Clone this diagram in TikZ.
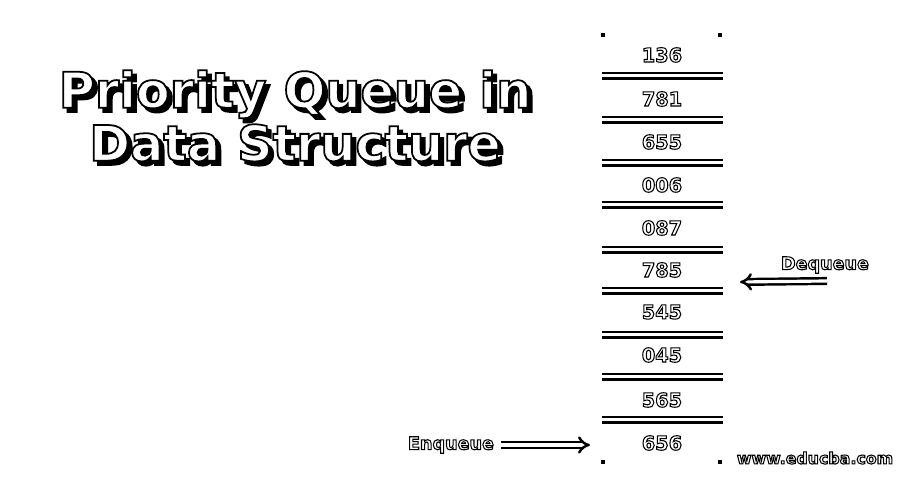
\documentclass[tikz,border=0pt]{standalone}
\usepackage{fontspec}
\setmainfont{DejaVu Sans}
\usetikzlibrary{arrows.meta}
% white letters with a black outline (fill and stroke text mode)
\newcommand{\outl}[2][0.6]{{\color{white}\special{pdf:code q 0 G 2 Tr #1 w}#2\special{pdf:code Q}}}
\newcommand{\shadowtext}[1]{\makebox[0pt][l]{\hspace{2.4pt}\raisebox{-2.4pt}{\special{pdf:code q 0 G 2 Tr 1 w}#1\special{pdf:code Q}}}\outl[1]{#1}}

\begin{document}
\begin{tikzpicture}[
    >=stealth,
    cell/.style={
        font=\bfseries\fontsize{11}{13}\selectfont,
        inner sep=0pt
    },
    sep/.style={
        double=white,
        double distance=1.7pt,
        line width=1.6pt
    },
    cornermark/.style={
        fill=black,
        minimum size=0.08cm,
        inner sep=0pt
    },
    qlabel/.style={
        font=\bfseries\fontsize{10}{12}\selectfont,
        inner sep=1pt
    },
    arr/.style={
        double=white,
        double distance=1.8pt,
        line width=1.4pt,
        -{Implies[length=4pt]}
    }
]
    \useasboundingbox (0,0) rectangle (18,10);

    \node[font=\bfseries\fontsize{28}{26}\selectfont, align=center] (title) at (5.9,7.64)
        {\shadowtext{Priority Queue in}\\\shadowtext{Data Structure}};

    % corner marks of the queue
    \node[cornermark] (tl) at (12.06,9.30) {};
    \node[cornermark] (tr) at (14.40,9.30) {};
    \node[cornermark] (bl) at (12.06,0.76) {};
    \node[cornermark] (br) at (14.40,0.76) {};

    \node[cell] (q1) at (13.24,8.90) {\outl{136}};
    \node[cell] (q2) at (13.24,8.02) {\outl{781}};
    \node[cell] (q3) at (13.24,7.16) {\outl{655}};
    \node[cell] (q4) at (13.24,6.30) {\outl{006}};
    \node[cell] (q5) at (13.24,5.44) {\outl{087}};
    \node[cell] (q6) at (13.24,4.60) {\outl{785}};
    \node[cell] (q7) at (13.24,3.76) {\outl{545}};
    \node[cell] (q8) at (13.24,2.90) {\outl{045}};
    \node[cell] (q9) at (13.24,2.00) {\outl{565}};
    \node[cell] (q10) at (13.24,1.14) {\outl{656}};

    \draw[sep] (12.04,8.48) -- (14.46,8.48);
    \draw[sep] (12.04,7.60) -- (14.46,7.60);
    \draw[sep] (12.04,6.74) -- (14.46,6.74);
    \draw[sep] (12.04,5.90) -- (14.46,5.90);
    \draw[sep] (12.04,5.00) -- (14.46,5.00);
    \draw[sep] (12.04,4.18) -- (14.46,4.18);
    \draw[sep] (12.04,3.30) -- (14.46,3.30);
    \draw[sep] (12.04,2.46) -- (14.46,2.46);
    \draw[sep] (12.04,1.60) -- (14.46,1.60);

    \node[qlabel] (deq) at (16.50,4.70) {\outl{Dequeue}};
    \coordinate (deqtail) at (16.54,4.38);
    \coordinate (deqtip) at (14.80,4.36);
    \draw[arr] (deqtail) -- (deqtip);

    \node[qlabel] (enq) at (9.02,1.10) {\outl{Enqueue}};
    \coordinate (enqtip) at (11.80,1.10);
    \draw[arr, shorten <=0.1cm] (enq.east) -- (enqtip);

    \node[font=\bfseries\fontsize{9}{11}\selectfont] (site) at (16.30,0.84) {\outl{www.educba.com}};

\end{tikzpicture}
\end{document}
